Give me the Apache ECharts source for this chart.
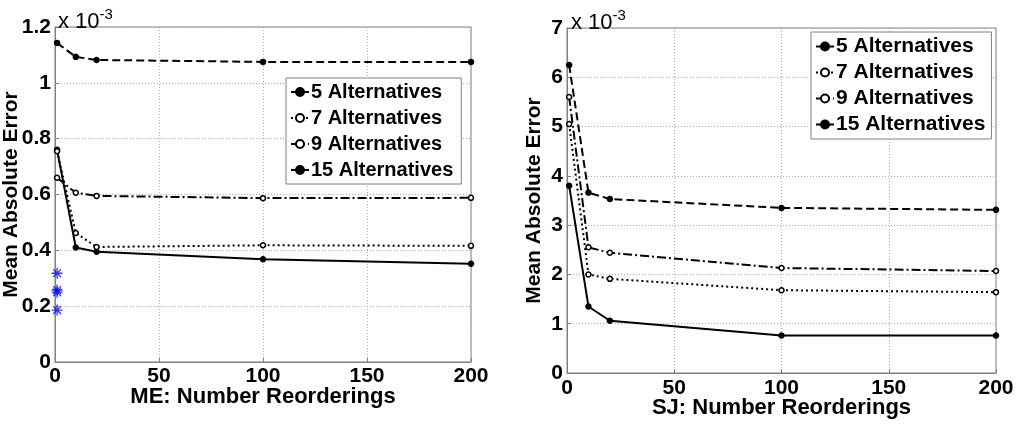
<!DOCTYPE html>
<html>
<head>
<meta charset="utf-8">
<script src="https://cdn.jsdelivr.net/npm/echarts@6/dist/echarts.min.js"></script>
<style>html,body{margin:0;padding:0;background:#fff}#c{width:1023px;height:426px}</style>
</head>
<body>
<div id="c"></div>
<script>
// Shared x positions (number of reorderings)
const xValues = [1, 10, 20, 100, 200];
const seriesNames = ['5 Alternatives', '7 Alternatives', '9 Alternatives', '15 Alternatives'];
const xTicks = [0, 50, 100, 150, 200];

// ME panel (values x 10^-3)
const me5  = [0.76, 0.41, 0.395, 0.368, 0.352];
const me7  = [0.755, 0.462, 0.412, 0.418, 0.416];
const me9  = [0.66, 0.606, 0.595, 0.587, 0.588];
const me15 = [1.143, 1.093, 1.082, 1.075, 1.075];
const meStarX = 1;
const meStars = [0.318, 0.258, 0.25, 0.186];

// SJ panel (values x 10^-3)
const sj5  = [3.8, 1.35, 1.06, 0.76, 0.76];
const sj7  = [5.05, 2.0, 1.91, 1.68, 1.64];
const sj9  = [5.6, 2.55, 2.44, 2.13, 2.07];
const sj15 = [6.25, 3.66, 3.53, 3.35, 3.31];

const FONT = '"Liberation Sans", Arial, sans-serif';
const styles = [
  { type: 'solid', fill: '#000' },
  { type: [2, 3], fill: '#fff' },
  { type: [9, 3, 2, 3], fill: '#fff' },
  { type: [8, 4], fill: '#000' }
];

function pts(arr) { return xValues.map((x, i) => [x, arr[i]]); }

function mkSeries(arrs, idx) {
  return arrs.map((a, i) => ({
    name: seriesNames[i],
    type: 'line',
    xAxisIndex: idx, yAxisIndex: idx,
    data: pts(a),
    symbol: 'circle',
    symbolSize: 5,
    lineStyle: { color: '#000', width: 2, type: styles[i].type },
    itemStyle: { color: styles[i].fill, borderColor: '#000', borderWidth: 1.5 },
    emphasis: { disabled: true },
    z: 3 + i
  }));
}

function xAx(idx, name, gap, fs, margin) {
  return {
    gridIndex: idx, type: 'value', min: 0, max: 200, interval: 50,
    name: name, nameLocation: 'middle', nameGap: gap, nameMoveOverlap: false,
    nameTextStyle: { fontFamily: FONT, fontWeight: 'bold', fontSize: fs + 1, color: '#000' },
    axisLine: { show: true, onZero: false, lineStyle: { color: '#808080', width: 1 } },
    axisTick: { show: true, inside: true, length: 4, lineStyle: { color: '#808080' } },
    axisLabel: { fontFamily: FONT, fontWeight: 'bold', fontSize: fs, color: '#000', margin: margin,
      formatter: v => xTicks.indexOf(v) >= 0 ? String(v) : '' },
    splitLine: { show: true, lineStyle: { color: '#aaa', type: [1, 2], width: 1 } }
  };
}

function yAx(idx, max, interval, gap, fs) {
  return {
    gridIndex: idx, type: 'value', min: 0, max: max, interval: interval,
    name: 'Mean Absolute Error', nameLocation: 'middle', nameGap: gap, nameMoveOverlap: false,
    nameTextStyle: { fontFamily: FONT, fontWeight: 'bold', fontSize: fs, color: '#000' },
    axisLine: { show: true, lineStyle: { color: '#808080', width: 1 } },
    axisTick: { show: true, inside: true, length: 4, lineStyle: { color: '#808080' } },
    axisLabel: { fontFamily: FONT, fontWeight: 'bold', fontSize: fs, color: '#000', margin: 4 },
    splitLine: { show: true, lineStyle: { color: '#aaa', type: [1, 2], width: 1 } }
  };
}

const starPath = 'path://M5,0L5,10M0,5L10,5M1.5,1.5L8.5,8.5M8.5,1.5L1.5,8.5';
const supStyle = { fontFamily: FONT, fontSize: 15, verticalAlign: 'top', padding: [0, 0, 14, 0], color: '#000' };

const chart = echarts.init(document.getElementById('c'), null, { renderer: 'canvas' });
chart.setOption({
  animation: false,
  backgroundColor: '#fff',
  title: [
    { text: 'x 10{s|-3}', left: 53, top: 2,
      textStyle: { fontFamily: FONT, fontWeight: 'normal', fontSize: 22, color: '#000', rich: { s: supStyle } } },
    { text: 'x 10{s|-3}', left: 566, top: 3,
      textStyle: { fontFamily: FONT, fontWeight: 'normal', fontSize: 22, color: '#000', rich: { s: supStyle } } }
  ],
  grid: [
    { left: 55, right: 552, top: 27, bottom: 64, show: true, borderColor: '#808080', borderWidth: 1,
      containLabel: false, outerBoundsMode: 'none' },
    { left: 567, right: 27, top: 28, bottom: 53, show: true, borderColor: '#808080', borderWidth: 1,
      containLabel: false, outerBoundsMode: 'none' }
  ],
  xAxis: [xAx(0, 'ME: Number Reorderings', 24, 21, 4), xAx(1, 'SJ: Number Reorderings', 24, 21, 5)],
  yAxis: [yAx(0, 1.2, 0.2, 33, 21), yAx(1, 7, 1, 22, 21)],
  legend: [
    { data: seriesNames, orient: 'vertical', left: 286, top: 78,
      backgroundColor: '#fff', borderColor: '#808080', borderWidth: 1, borderRadius: 0,
      padding: [4, 8, 4, 4], itemGap: 6, itemWidth: 18, itemHeight: 10,
      textStyle: { fontFamily: FONT, fontWeight: 'bold', fontSize: 20, color: '#000', padding: [0, 0, 0, -3] },
      selectedMode: false },
    { data: seriesNames, orient: 'vertical', left: 811, top: 32,
      backgroundColor: '#fff', borderColor: '#808080', borderWidth: 1, borderRadius: 0,
      padding: [4, 6, 4, 4], itemGap: 5, itemWidth: 18, itemHeight: 10,
      textStyle: { fontFamily: FONT, fontWeight: 'bold', fontSize: 21, color: '#000', padding: [0, 0, 0, -3] },
      selectedMode: false }
  ],
  series: [
    ...mkSeries([me5, me7, me9, me15], 0),
    ...mkSeries([sj5, sj7, sj9, sj15], 1),
    { name: 'stars', type: 'scatter', xAxisIndex: 0, yAxisIndex: 0,
      data: meStars.map(v => [meStarX, v]),
      symbol: starPath, symbolSize: 11,
      itemStyle: { color: 'none', borderColor: '#0000ff', borderWidth: 1.3 },
      emphasis: { disabled: true }, z: 10 }
  ]
});
</script>
</body>
</html>
